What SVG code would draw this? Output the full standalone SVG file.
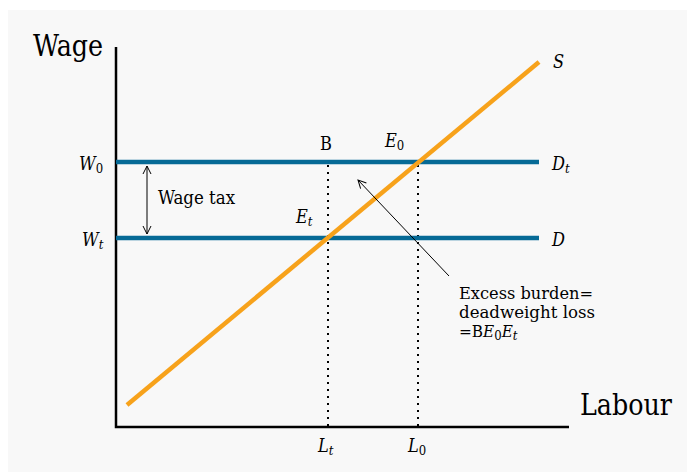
<svg xmlns="http://www.w3.org/2000/svg" width="687" height="472" viewBox="0 0 687 472">
<defs>
<marker id="ah" markerWidth="10" markerHeight="10" refX="9" refY="5" orient="auto-start-reverse" markerUnits="userSpaceOnUse">
<path d="M1,1 L9,5 L1,9" fill="none" stroke="#000" stroke-width="1"/>
</marker>
<style>
.t{font-family:"DejaVu Serif Condensed","DejaVu Serif",serif;font-stretch:condensed;fill:#000}
.big{font-size:30px}
.lab{font-size:18px}
.sm{font-size:17px}
.it{font-style:italic}
.sub{font-size:13px;font-style:normal}
.subi{font-size:13px;font-style:italic}
.axis{stroke:#000;stroke-width:2.5;fill:none}
.dem{stroke:#066a96;stroke-width:4.5;fill:none}
.sup{stroke:#f7a21b;stroke-width:4.5;fill:none}
.dot{stroke:#000;stroke-width:2;stroke-dasharray:2 5;fill:none}
.thin{stroke:#000;stroke-width:1;fill:none}
</style>
</defs>
<rect x="8" y="10" width="679" height="462" fill="#f8f8f8"/>
<g id="axes">
<path class="axis" d="M116,47 V427 H569"/>
<text class="t big" x="33" y="56" textLength="70" lengthAdjust="spacingAndGlyphs">Wage</text>
<text class="t big" x="580" y="415" textLength="92" lengthAdjust="spacingAndGlyphs">Labour</text>
</g>
<g id="guides">
<path class="dot" d="M328,165 V427"/>
<path class="dot" d="M418,165 V427"/>
</g>
<g id="D">
<path class="dem" d="M116,238 H539"/>
<text class="t lab it" x="552" y="246">D</text>
<text class="t lab it" x="82" y="246">W<tspan class="subi" dy="3">t</tspan></text>
</g>
<g id="Dt">
<path class="dem" d="M116,162 H539"/>
<text class="t lab it" x="552" y="170">D<tspan class="subi" dy="3">t</tspan></text>
<text class="t lab it" x="79" y="170">W<tspan class="sub" dy="3">0</tspan></text>
</g>
<g id="S">
<path class="sup" d="M127,405 L539,62"/>
<text class="t lab it" x="553" y="68">S</text>
</g>
<g id="points">
<text class="t lab" x="320" y="150">B</text>
<text class="t lab it" x="385" y="147">E<tspan class="sub" dy="3">0</tspan></text>
<text class="t lab it" x="296" y="223">E<tspan class="subi" dy="3">t</tspan></text>
<text class="t lab it" x="318" y="452">L<tspan class="subi" dy="3">t</tspan></text>
<text class="t lab it" x="408" y="452">L<tspan class="sub" dy="3">0</tspan></text>
</g>
<g id="connectors">
<path class="thin" d="M147,166 V234" marker-start="url(#ah)" marker-end="url(#ah)"/>
<path class="thin" d="M449,276 L358,180" marker-end="url(#ah)"/>
</g>
<g id="wagetax">
<text class="t lab" x="158" y="204" textLength="77" lengthAdjust="spacingAndGlyphs">Wage tax</text>
</g>
<g id="burden">
<text class="t sm" x="459" y="299" textLength="134" lengthAdjust="spacingAndGlyphs">Excess burden=</text>
<text class="t sm" x="459" y="318" textLength="136" lengthAdjust="spacingAndGlyphs">deadweight loss</text>
<text class="t sm" x="459" y="337">=B<tspan class="it">E</tspan><tspan class="sub" dy="3">0</tspan><tspan class="it" dy="-3">E</tspan><tspan class="subi" dy="3">t</tspan></text>
</g>
</svg>
